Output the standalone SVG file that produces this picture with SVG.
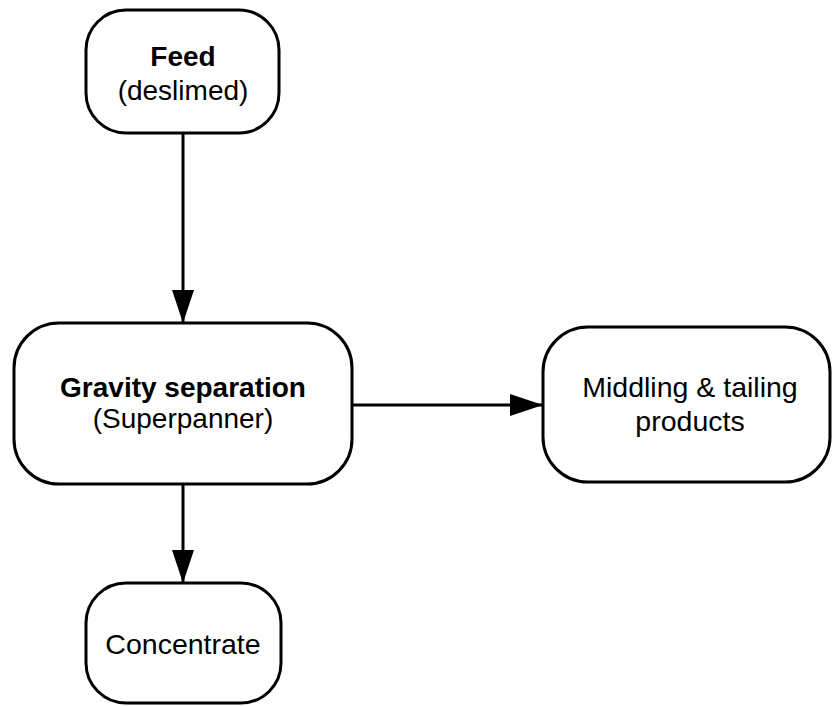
<svg xmlns="http://www.w3.org/2000/svg" width="832" height="706" viewBox="0 0 832 706">
<style>
.box{fill:#fff;stroke:#000;stroke-width:3}
.t{font-family:"Liberation Sans",Arial,sans-serif;font-size:28px;fill:#000;text-anchor:middle}
.b{font-weight:bold}
.c{stroke:#000;stroke-width:3;fill:none}
</style>
<defs>
<marker id="ah" markerUnits="userSpaceOnUse" markerWidth="33" markerHeight="22" refX="33" refY="11" orient="auto" viewBox="0 0 33 22">
<path d="M0,0 L33,11 L0,22 z" fill="#000"/>
</marker>
</defs>
<rect width="832" height="706" fill="#fff"/>
<g id="connectors">
<line class="c" x1="183" y1="133" x2="183" y2="323" marker-end="url(#ah)"/>
<line class="c" x1="352" y1="405" x2="543" y2="405" marker-end="url(#ah)"/>
<line class="c" x1="183" y1="484" x2="183" y2="583" marker-end="url(#ah)"/>
</g>
<g id="feed">
<rect class="box" x="86" y="10" width="193" height="123" rx="40" ry="40"/>
<text class="t b" x="183" y="66">Feed</text>
<text class="t" x="183" y="100">(deslimed)</text>
</g>
<g id="gravity">
<rect class="box" x="14" y="323" width="338" height="161" rx="45" ry="45"/>
<text class="t b" x="183" y="397">Gravity separation</text>
<text class="t" x="183" y="428">(Superpanner)</text>
</g>
<g id="middling">
<rect class="box" x="543" y="327" width="287" height="155" rx="45" ry="45"/>
<text class="t" x="690" y="397" style="font-size:28.5px">Middling &amp; tailing</text>
<text class="t" x="690" y="431" style="font-size:28.5px">products</text>
</g>
<g id="concentrate">
<rect class="box" x="86" y="583" width="195" height="120" rx="40" ry="40"/>
<text class="t" x="183" y="654" style="font-size:28.5px">Concentrate</text>
</g>
</svg>
